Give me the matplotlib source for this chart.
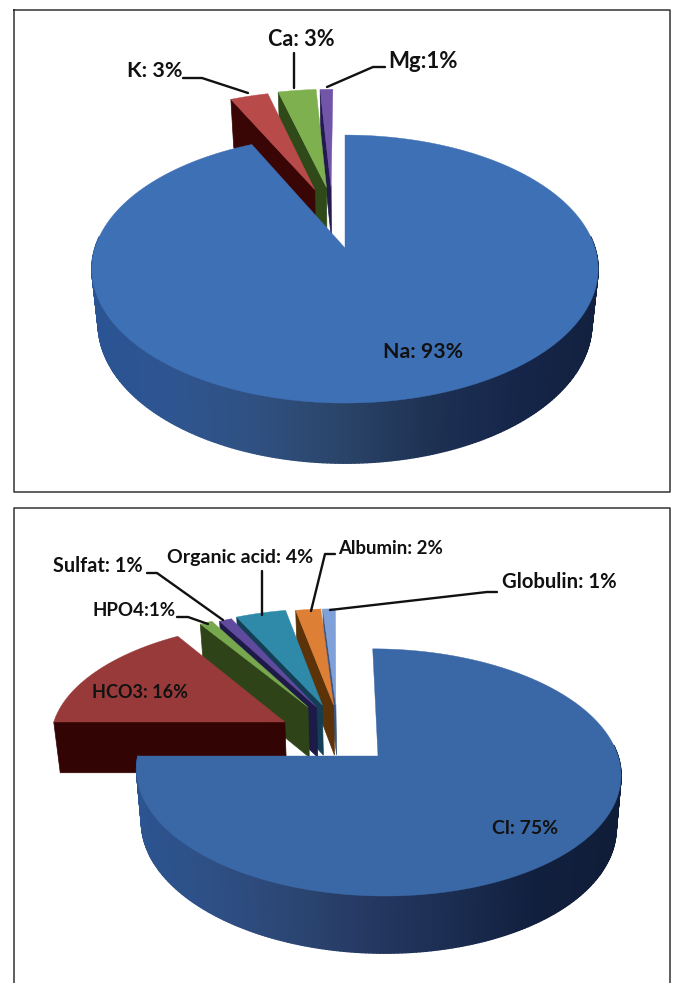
# -*- coding: utf-8 -*-
# two exploded 3D pies, cations on top and anions below
# drawn as flat polygons through a small perspective projection

import numpy as np
import matplotlib
matplotlib.use('Agg')
import matplotlib.pyplot as plt
from matplotlib.collections import PolyCollection
from matplotlib.colors import LinearSegmentedColormap

plt.rcParams['font.family'] = ['Lato', 'DejaVu Sans']

# data, clockwise from 12 o'clock
cation_names = ['Na', 'K', 'Ca', 'Mg']
cation_values = [93, 3, 3, 1]
cation_labels = ['Na: 93%', 'K: 3%', 'Ca: 3%', 'Mg:1%']

anion_names = ['Cl', 'HCO3', 'HPO4', 'Sulfat', 'Organic acid', 'Albumin', 'Globulin']
anion_values = [75, 16, 1, 1, 4, 2, 1]
anion_labels = ['Cl: 75%', 'HCO3: 16%', 'HPO4:1%', 'Sulfat: 1%',
                'Organic acid: 4%', 'Albumin: 2%', 'Globulin: 1%']

# styles: top face, side face
cation_top = ['#3e70b5', '#b84a4a', '#7fb04f', '#7055a8']
cation_side = ['#2b5088', '#3a0505', '#2f4a18', '#241a50']
anion_top = ['#3a68a6', '#983a3a', '#78a84e', '#5f4a9e', '#2f8aaa', '#dd7f35', '#7fa0d8']
anion_side = ['#2b5088', '#330404', '#2e4418', '#1e1a48', '#123f55', '#5c3208', '#3a5684']

# how far each slice is pulled out, in units of the pie radius
cation_explode = [(0, 0), (-0.13, 0.48), (-0.08, 0.50), (-0.06, 0.50)]
anion_explode = [(0, 0), (-0.396, 0.291), (-0.298, 0.426), (-0.26, 0.426),
                 (-0.235, 0.445), (-0.185, 0.445), (-0.175, 0.445)]

# pie geometry in pixels: centre, radii, perspective, shear, depth, wall taper
cation_geo = dict(xc=345, yc=248, a=250, b=130.7, p=0.157, s=0, d=54, vs=0.975)
anion_geo = dict(xc=378, yc=756, a=240, b=121.4, p=0.133, s=-6, d=52, vs=0.98)

# wall shading runs left to right across the pie
cation_wall = LinearSegmentedColormap.from_list(
    'wall1', ['#2a5494', '#2f5590', '#2f5080', '#2a4468', '#1e3254', '#15264a', '#13213f'])
anion_wall = LinearSegmentedColormap.from_list(
    'wall2', ['#2c5490', '#2e4f84', '#2b4572', '#24375f', '#1a2c50', '#111f3e', '#101d38'])


def project(px, py, geo, low=False):
    # plane coords of the pie (radius 1, y pointing away) to pixels
    w = 1 + geo['p'] * py
    x = geo['xc'] + (geo['a'] * px + geo['s'] * py) / w
    y = geo['yc'] - geo['b'] * py / w
    if low:
        x = geo['xc'] + (x - geo['xc']) * geo['vs']
        y = geo['yc'] + (y - geo['yc']) * geo['vs'] + geo['d'] / w
    return x, y


def slice_points(t0, t1, off, geo, low=False):
    t = np.radians(np.linspace(t0, t1, 200))
    px = np.concatenate([[off[0]], np.sin(t) + off[0]])
    py = np.concatenate([[off[1]], np.cos(t) + off[1]])
    return np.column_stack(project(px, py, geo, low))


def draw_pie(ax, values, tops, sides, explode, geo, wall):
    edges = np.concatenate([[0], np.cumsum(values)]) * 360.0 / sum(values)

    # small slices first, from the 12 o'clock end back to the biggest one
    for i in range(len(values) - 1, 0, -1):
        top = slice_points(edges[i], edges[i + 1], explode[i], geo)
        low = slice_points(edges[i], edges[i + 1], explode[i], geo, low=True)
        face = [top[1], top[0], low[0], low[1]]
        ax.fill(*zip(*face), color=sides[i], lw=0.5, zorder=2 + (len(values) - i))
        ax.fill(top[:, 0], top[:, 1], color=tops[i], lw=0.3, zorder=2 + (len(values) - i))

    # outer wall of the main slice, only the part facing the viewer
    t = np.linspace(max(edges[0], 85), min(edges[1], 275), 240)
    upper = np.column_stack(project(np.sin(np.radians(t)), np.cos(np.radians(t)), geo))
    lower = np.column_stack(project(np.sin(np.radians(t)), np.cos(np.radians(t)), geo, low=True))
    quads = [[upper[j], upper[j + 1], lower[j + 1], lower[j]] for j in range(len(t) - 1)]
    across = (upper[:-1, 0] - upper[:, 0].min()) / (upper[:, 0].max() - upper[:, 0].min())
    shade = wall(across)
    ax.add_collection(PolyCollection(quads, facecolors=shade, edgecolors=shade,
                                     linewidths=1.0, zorder=20))

    top = slice_points(edges[0], edges[1], explode[0], geo)
    ax.fill(top[:, 0], top[:, 1], color=tops[0], lw=0.3, zorder=21)


fig = plt.figure(figsize=(6.74, 9.83), dpi=100)
ax = fig.add_axes([0, 0, 1, 1])
ax.set_xlim(0, 674)
ax.set_ylim(983, 0)
ax.axis('off')

# frames round the two panels
ax.plot([14, 670, 670, 14, 14], [10, 10, 492, 492, 10], color='#333333', lw=1.1)
ax.plot([14, 14, 670, 670], [983, 508, 508, 983], color='#333333', lw=1.1)

draw_pie(ax, cation_values, cation_top, cation_side, cation_explode, cation_geo, cation_wall)
draw_pie(ax, anion_values, anion_top, anion_side, anion_explode, anion_geo, anion_wall)

# leader lines
leaders = [
    [(183, 78), (202, 78), (248, 93)],
    [(294, 53), (294, 88)],
    [(385, 67), (373, 67), (327, 87)],
    [(147, 573), (157, 573), (223, 620)],
    [(177, 617), (188, 617), (208, 624)],
    [(262, 571), (262, 615)],
    [(335, 554), (325, 554), (311, 611)],
    [(497, 592), (487, 592), (330, 610)],
]
for line in leaders:
    ax.plot(*zip(*line), color='#111111', lw=1.7, zorder=30, solid_capstyle='round')

# label positions: left edge and middle height, then font size
cation_pos = [(383, 352), (127, 71), (268, 39), (388, 61)]
anion_pos = [(492, 829), (92, 693), (92, 611), (53, 566), (167, 557), (338, 548), (502, 582)]
cation_size = [15.3, 15.4, 15.6, 16]
anion_size = [14, 13, 13.5, 14.3, 14, 13.4, 14.6]

for txt, pos, size in zip(cation_labels + anion_labels, cation_pos + anion_pos,
                          cation_size + anion_size):
    ax.text(pos[0], pos[1], txt, fontsize=size, fontweight='bold', color='#111111',
            ha='left', va='center', zorder=31)

fig.savefig('out.png', dpi=100)
